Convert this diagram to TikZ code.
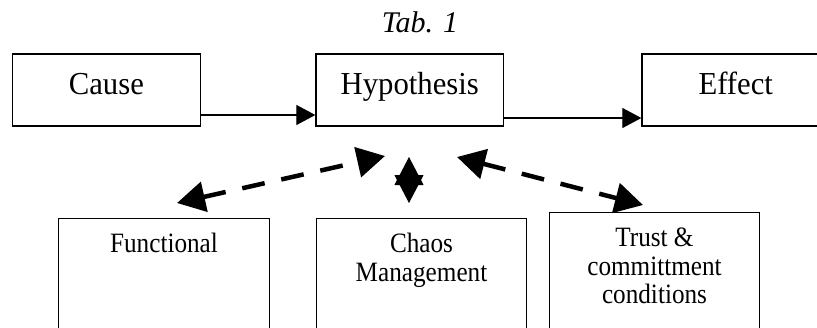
\documentclass[tikz,border=0pt]{standalone}
\usepackage{fontspec}
\setmainfont{Liberation Serif}
\newfontfamily\topfont{Liberation Serif}[FakeStretch=0.96]
\newfontfamily\botfont{Liberation Serif}[FakeStretch=0.9]
\usetikzlibrary{arrows.meta}
\begin{document}
\begin{tikzpicture}[x=1pt,y=-1pt,
  box/.style={draw, line width=1.3pt, rectangle, inner sep=0pt},
  topbox/.style={box, minimum width=187.5pt, minimum height=72pt,
    font=\topfont\fontsize{32}{38}\selectfont, text height=22pt, text depth=14pt},
  botbox/.style={box, minimum width=210.5pt, minimum height=160pt, anchor=north},
  bottext/.style={anchor=north, inner sep=0pt, align=center,
    font=\botfont\fontsize{28}{28.5}\selectfont},
  flow/.style={line width=1.2pt, -{Triangle[length=19pt,width=20pt]}},
  link/.style={line width=4.5pt, dash pattern=on 23pt off 17pt,
    {Triangle[length=28pt,width=30pt]}-{Triangle[length=28pt,width=30pt]}},
  star/.style={line width=1pt,
    {Triangle[length=28pt,width=29pt]}-{Triangle[length=28pt,width=29pt]}},
]
\clip (0,0) rectangle (817,327);

\node[anchor=base, inner sep=0pt, font=\fontsize{30}{36}\selectfont\itshape] (title) at (420,32) {Tab. 1};

\node[topbox] (cause) at (106.4,90) {Cause};
\node[topbox] (hyp) at (409.75,90) {Hypothesis};
\node[topbox] (effect) at (735.75,90) {Effect};

\draw[flow] ([yshift=-25pt]cause.east) -- ([yshift=-25pt]hyp.west);
\draw[flow] ([yshift=-28pt]hyp.east) -- ([yshift=-28pt]effect.west);

\node[botbox] (func) at (164,217.5) {};
\node[botbox] (chaos) at (421.5,218) {};
\node[botbox] (trust) at (654.5,212) {};

\node[bottext] (functxt) at ([yshift=-15.5pt]func.north) {Functional};
\node[bottext] (chaostxt) at ([yshift=-15pt]chaos.north) {Chaos\\Management};
\node[bottext] (trusttxt) at ([yshift=-16pt]trust.north) {Trust \&\\committment\\conditions};

\coordinate (l1) at (177,203);
\coordinate (l2) at (385,156);
\coordinate (r1) at (457,157);
\coordinate (r2) at (643,205);
\coordinate (m1) at (409,157);
\coordinate (m2) at (409,203);

\draw[link] (l1) -- (l2);
\draw[link] (r1) -- (r2);
\draw[star] (m1) -- (m2);
\end{tikzpicture}
\end{document}
